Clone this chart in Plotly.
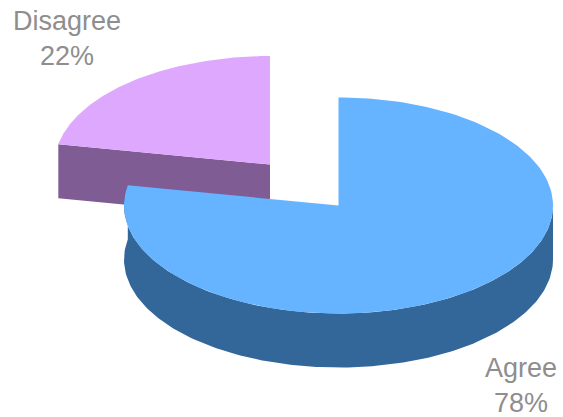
import numpy as np
import plotly.graph_objects as go

categories = ["Agree", "Disagree"]
percent_values = [78, 22]
top_colors = ["#66B3FF", "#DFA8FF"]
side_colors = ["#336699", "#7F5C94"]
label_color = "#8E8E8E"

W, H = 563, 417
DEPTH = 54
# centre x, centre y, horizontal radius, vertical radius of each exploded slice
ELLIPSES = {"Agree": (338.5, 205.5, 214.5, 108), "Disagree": (270, 164.5, 215.5, 108.5)}


def rim(ellipse, start, stop, n=180):
    """Points on the elliptical rim; angles run clockwise from 12 o'clock."""
    cx, cy, rx, ry = ellipse
    t = np.radians(np.linspace(start, stop, n))
    return cx + rx * np.sin(t), cy - ry * np.cos(t)


def polygon(xs, ys, color):
    return go.Scatter(
        x=list(xs), y=list(ys), mode="lines", fill="toself", fillcolor=color,
        line=dict(width=0, color=color), hoverinfo="skip", showlegend=False,
    )


# Each slice starts at 12 o'clock and sweeps clockwise
agree_sweep = 360 * percent_values[0] / sum(percent_values)
fig = go.Figure()

# Disagree: cut face, then the top
ell = ELLIPSES["Disagree"]
cx, cy = ell[:2]
ex, ey = rim(ell, agree_sweep, agree_sweep, n=1)
fig.add_trace(polygon([cx, ex[0], ex[0], cx], [cy, ey[0], ey[0] + DEPTH, cy + DEPTH], side_colors[1]))
xs, ys = rim(ell, agree_sweep, 360)
fig.add_trace(polygon([cx, *xs, cx], [cy, *ys, cy], top_colors[1]))

# Agree: outer wall from the right-hand extreme round to the end of the slice
ell = ELLIPSES["Agree"]
cx, cy = ell[:2]
lx, ly = rim(ell, 90, agree_sweep)
fig.add_trace(polygon([*lx, *lx[::-1]], [*ly, *(ly[::-1] + DEPTH)], side_colors[0]))
xs, ys = rim(ell, 0, agree_sweep)
fig.add_trace(polygon([cx, *xs, cx], [cy, *ys, cy], top_colors[0]))

annotations = [
    dict(x=521, y=385, text=f"{categories[0]}<br>{percent_values[0]}%"),
    dict(x=67, y=38, text=f"{categories[1]}<br>{percent_values[1]}%"),
]
for a in annotations:
    a.update(xref="x", yref="y", showarrow=False, align="center",
             font=dict(family="Liberation Sans", size=27, color=label_color))

fig.update_layout(
    width=W, height=H, margin=dict(l=0, r=0, t=0, b=0),
    paper_bgcolor="white", plot_bgcolor="white", showlegend=False,
    annotations=annotations,
    xaxis=dict(range=[0, W], visible=False, fixedrange=True),
    yaxis=dict(range=[H, 0], visible=False, fixedrange=True),
)
fig.write_html("out.html", config={"displayModeBar": False})
